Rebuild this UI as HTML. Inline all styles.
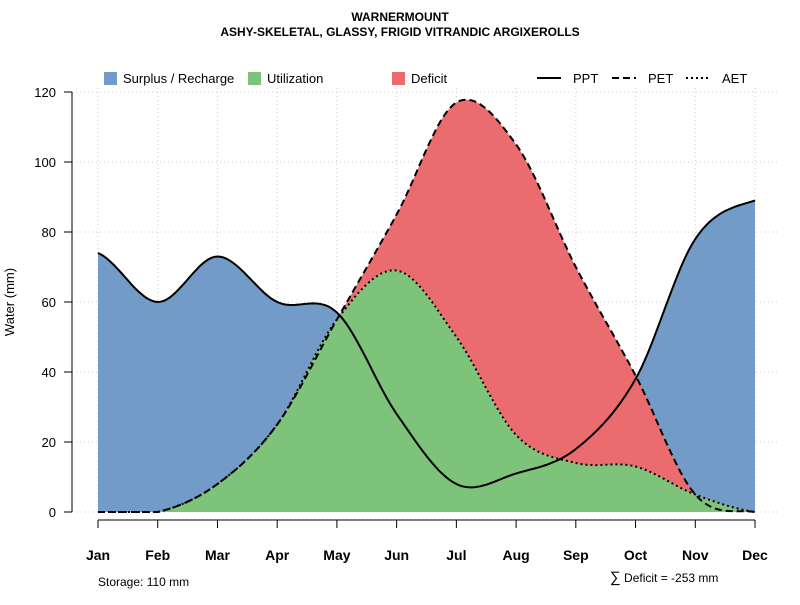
<!DOCTYPE html>
<html><head><meta charset="utf-8"><style>
body{margin:0;background:#fff}
svg text{font-family:"Liberation Sans",sans-serif}
</style></head><body>
<svg id="c" width="800" height="600" xmlns="http://www.w3.org/2000/svg">
<text x="400" y="21" text-anchor="middle" font-size="12" font-weight="bold">WARNERMOUNT</text>
<text x="400" y="36" text-anchor="middle" font-size="12" font-weight="bold">ASHY-SKELETAL, GLASSY, FRIGID VITRANDIC ARGIXEROLLS</text>
<g id="grid"></g>
<g id="areas"></g>
<g id="lines"></g>
<g id="axes"></g>
<g font-size="13">
<rect x="104" y="72" width="13" height="13" fill="#739bc8"/>
<text x="123" y="83">Surplus / Recharge</text>
<rect x="248" y="72" width="13" height="13" fill="#7dc47a"/>
<text x="267" y="83">Utilization</text>
<rect x="392" y="72" width="13" height="13" fill="#eb6c6e"/>
<text x="411" y="83">Deficit</text>
<line x1="537" y1="78" x2="561" y2="78" stroke="#000" stroke-width="2"/>
<text x="573" y="83">PPT</text>
<line x1="612" y1="78" x2="636" y2="78" stroke="#000" stroke-width="2" stroke-dasharray="7,4"/>
<text x="648" y="83">PET</text>
<line x1="686" y1="78" x2="710" y2="78" stroke="#000" stroke-width="2" stroke-dasharray="2,3"/>
<text x="722" y="83">AET</text>
</g>
<text x="14" y="302" transform="rotate(-90 14 302)" text-anchor="middle" font-size="13">Water (mm)</text>
<text x="98" y="586" font-size="12">Storage: 110 mm</text>
<text x="610" y="582" font-size="12"><tspan font-size="15">∑</tspan> Deficit = -253 mm</text>
</svg>
<script>
const months=["Jan","Feb","Mar","Apr","May","Jun","Jul","Aug","Sep","Oct","Nov","Dec"];
const ppt=[74,60,73,60,57,28,8,11,18,38,78,89];
const pet=[0,0,8,25,55,85,117,105,70,39,5,0];
const aet=[0,0,8,25,55,69,50,22,14,13,5,0];
const yTicks=[0,20,40,60,80,100,120];
const NS="http://www.w3.org/2000/svg";
const X=i=>98+i*(755-98)/11, Y=v=>512-v*3.5;
function mk(t,a,p){const e=document.createElementNS(NS,t);for(const k in a)e.setAttribute(k,a[k]);document.getElementById(p).appendChild(e);return e;}
function spline(d){const pts=[];for(let i=0;i<d.length-1;i++){const p0=d[Math.max(i-1,0)],p1=d[i],p2=d[i+1],p3=d[Math.min(i+2,d.length-1)];for(let s=0;s<20;s++){const t=s/20,t2=t*t,t3=t2*t;let v=0.5*((2*p1)+(-p0+p2)*t+(2*p0-5*p1+4*p2-p3)*t2+(-p0+3*p1-3*p2+p3)*t3);v=Math.max(v,0);pts.push([X(i+t),Y(v)]);}}pts.push([X(d.length-1),Y(d[d.length-1])]);return pts;}
const P=spline(ppt),E=spline(pet),A=spline(aet);
const str=p=>p.map(q=>q[0].toFixed(1)+","+q[1].toFixed(1)).join(" ");
yTicks.forEach(v=>{const l=mk("line",{x1:72,x2:780,y1:Y(v),y2:Y(v),stroke:"#ccc","stroke-dasharray":"1,3"},"grid");


const t=mk("text",{x:56,y:Y(v)+5,"text-anchor":"end","font-size":"13"},"axes");t.textContent=v;


const k=mk("line",{x1:64,x2:72,y1:Y(v),y2:Y(v),stroke:"#000"},"axes");

});
months.forEach((m,i)=>{const l=mk("line",{x1:X(i),x2:X(i),y1:88,y2:512,stroke:"#ccc","stroke-dasharray":"1,3"},"grid");


const k=mk("line",{x1:X(i),x2:X(i),y1:520,y2:528,stroke:"#000"},"axes");


const t=mk("text",{x:X(i),y:560,"text-anchor":"middle","font-size":"14","font-weight":"bold"},"axes");t.textContent=m;

});
const ya=mk("line",{x1:72,x2:72,y1:Y(120),y2:Y(0),stroke:"#000"},"axes");


const xa=mk("line",{x1:X(0),x2:X(11),y1:520,y2:520,stroke:"#000"},"axes");


const base=[[X(11),Y(0)],[X(0),Y(0)]];
const s=mk("polygon",{points:str(P.concat(base)),fill:"#739bc8"},"areas");


const d=mk("polygon",{points:str(E.concat(A.slice().reverse())),fill:"#eb6c6e"},"areas");


const u=mk("polygon",{points:str(A.concat(base)),fill:"#7dc47a"},"areas");


const lp=mk("polyline",{points:str(P),fill:"none",stroke:"#000","stroke-width":2},"lines");


const le=mk("polyline",{points:str(E),fill:"none",stroke:"#000","stroke-width":2,"stroke-dasharray":"7,4"},"lines");


const la=mk("polyline",{points:str(A),fill:"none",stroke:"#000","stroke-width":2,"stroke-dasharray":"2,3"},"lines");


</script>
</body></html>
